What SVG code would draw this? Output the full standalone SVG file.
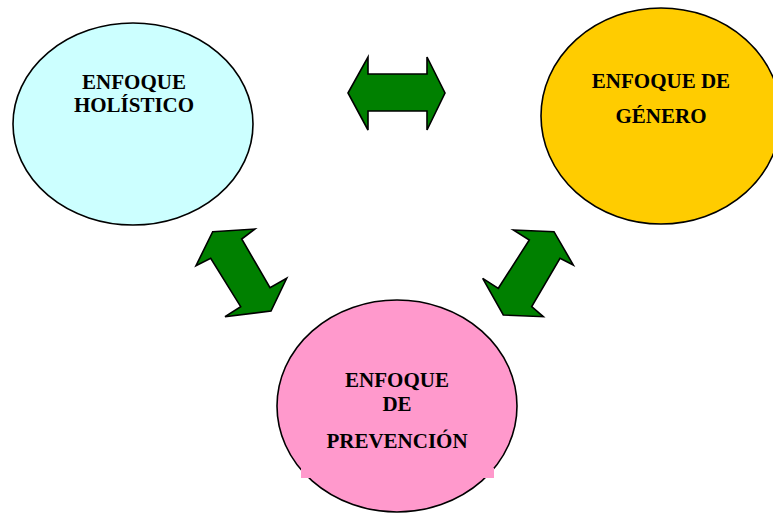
<svg xmlns="http://www.w3.org/2000/svg" width="773" height="513" viewBox="0 0 773 513">
<style>
.node ellipse{stroke:#000;stroke-width:1.6}
.arrow{fill:#008000;stroke:#000;stroke-width:1.6;stroke-linejoin:miter}
text{font-family:"Liberation Serif","Times New Roman",serif;font-weight:bold;font-size:21px;fill:#000;text-anchor:middle}
</style>
<rect width="773" height="513" fill="#fff"/>
<g id="connectors">
<polygon class="arrow" points="348,93 368,57 368,74 427,74 427,57 445,93 427,130 427,111 368,111 368,130"/>
<polygon class="arrow" points="212.7,231.7 255,229 241.7,239 270,287.7 286.7,278.3 271,311 225,316.7 240.7,306.7 210.7,258.3 196,265.7"/>
<polygon class="arrow" points="513.3,230 554,231.7 573.3,265 560,258.3 531.7,306.7 543.3,316.7 503.3,315 482.7,278.3 498.3,288.3 529.3,240"/>
</g>
<g id="holistico" class="node">
<ellipse cx="133" cy="124" rx="120" ry="101" fill="#CCFFFF"/>
<text x="134" y="89">ENFOQUE</text>
<text x="134" y="112">HOLÍSTICO</text>
</g>
<g id="genero" class="node">
<ellipse cx="661" cy="116" rx="120" ry="108" fill="#FFCC00"/>
<text x="661" y="88">ENFOQUE DE</text>
<text x="661" y="123">GÉNERO</text>
</g>
<g id="prevencion" class="node">
<ellipse cx="397" cy="406" rx="120" ry="106" fill="#FF99CC"/>
<rect x="301" y="468" width="193" height="10" fill="#FF99CC"/>
<text x="397" y="387">ENFOQUE</text>
<text x="397" y="411">DE</text>
<text x="397" y="448">PREVENCIÓN</text>
</g>
</svg>
